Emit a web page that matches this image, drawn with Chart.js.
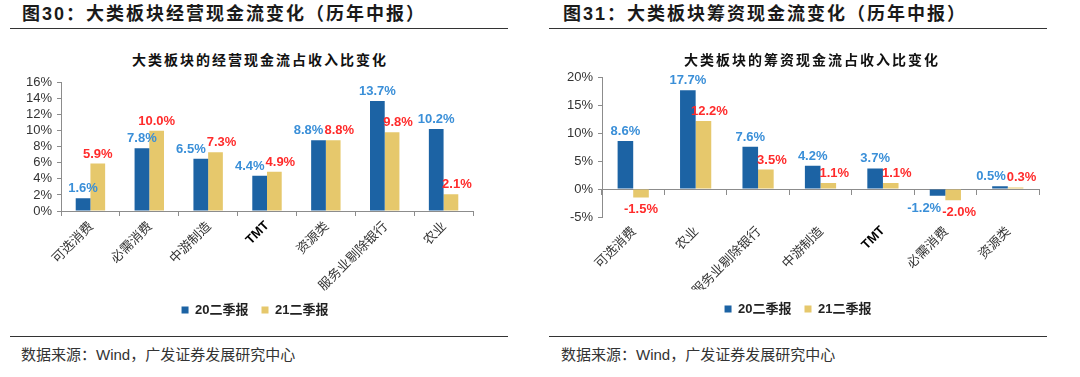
<!DOCTYPE html>
<html><head><meta charset="utf-8">
<script src="https://cdn.jsdelivr.net/npm/chart.js@4.4.0/dist/chart.umd.min.js"></script>
<style>
body{margin:0;width:1080px;height:377px;background:#fff;position:relative;overflow:hidden;font-family:"Liberation Sans","Noto Sans CJK SC",sans-serif;}
.t{position:absolute;top:2px;font-size:18px;font-weight:bold;letter-spacing:2px;color:#1a1a1a;white-space:nowrap;line-height:24px;z-index:2}
.hr{position:absolute;height:1px;background:#333;z-index:2}
.sub{position:absolute;top:50px;font-size:14px;font-weight:bold;letter-spacing:2px;color:#111;white-space:nowrap;line-height:18px;text-align:center;font-family:"Noto Sans CJK SC",sans-serif;z-index:2}
.src{position:absolute;top:345px;font-size:15px;color:#333;white-space:nowrap;line-height:20px;z-index:2}
.box{position:absolute}
</style></head>
<body>
<div class="t" style="left:22px">图30：大类板块经营现金流变化（历年中报）</div>
<div class="hr" style="left:10px;width:498px;top:28px"></div>
<div class="t" style="left:563px">图31：大类板块筹资现金流变化（历年中报）</div>
<div class="hr" style="left:549px;width:498px;top:28px"></div>

<div class="sub" style="left:110px;width:300px">大类板块的经营现金流占收入比变化</div>
<div class="sub" style="left:662px;width:300px">大类板块的筹资现金流占收入比变化</div>

<div class="box" style="left:0;top:71px;width:540px;height:258px"><canvas id="c1"></canvas></div>
<div class="box" style="left:540px;top:66px;width:540px;height:262px"><canvas id="c2"></canvas></div>

<div class="hr" style="left:10px;width:498px;top:336px"></div>
<div class="hr" style="left:549px;width:498px;top:336px"></div>
<div class="src" style="left:21px">数据来源：Wind，广发证券发展研究中心</div>
<div class="src" style="left:561px">数据来源：Wind，广发证券发展研究中心</div>

<script>
// ---- data ----
const seriesNames = ['20二季报', '21二季报'];

const opCategories = ['可选消费', '必需消费', '中游制造', 'TMT', '资源类', '服务业剔除银行', '农业'];
const opQ2_2020 = [1.6, 7.8, 6.5, 4.4, 8.8, 13.7, 10.2];
const opQ2_2021 = [5.9, 10.0, 7.3, 4.9, 8.8, 9.8, 2.1];
const opTicks = { min: 0, max: 16, step: 2 };

const finCategories = ['可选消费', '农业', '服务业剔除银行', '中游制造', 'TMT', '必需消费', '资源类'];
const finQ2_2020 = [8.6, 17.7, 7.6, 4.2, 3.7, -1.2, 0.5];
const finQ2_2021 = [-1.5, 12.2, 3.5, 1.1, 1.1, -2.0, 0.3];
const finTicks = { min: -5, max: 20, step: 5 };

// ---- styles ----
const BAR_COLORS = ['#1C63A4', '#E6C86C'];
const LABEL_COLORS = ['#3A8FD8', '#FF2B2B'];
const AXIS_COLOR = '#8C8C8C';
const LABEL_FONT = 'bold 13px "Liberation Sans", Arial, sans-serif';

function rectsHit(a, b) {
  return a.l < b.r && b.l < a.r && a.t < b.b && b.t < a.b;
}

// value labels above (or below) bars; the second label steps aside when it would hit the first bar/label
const barLabels = {
  id: 'barLabels',
  afterDatasetsDraw(chart) {
    const ctx = chart.ctx;
    ctx.save();
    ctx.font = LABEL_FONT;
    ctx.textAlign = 'center';
    ctx.textBaseline = 'alphabetic';
    const H = 10, GAP = 6, STEP = 6;
    const n = chart.data.labels.length;
    for (let i = 0; i < n; i++) {
      const items = chart.data.datasets.map((ds, di) => {
        const bar = chart.getDatasetMeta(di).data[i];
        const v = ds.data[i];
        const txt = v.toFixed(1) + '%';
        const w = ctx.measureText(txt).width;
        const base = v >= 0 ? bar.y - GAP : bar.y + GAP + H;
        return { di, txt, w, x: bar.x, base, bar };
      });
      const a = items[0], b = items[1];
      const rect = (it) => ({ l: it.x - it.w / 2, r: it.x + it.w / 2, t: it.base - H, b: it.base });
      const barA = { l: a.bar.x - a.bar.width / 2, r: a.bar.x + a.bar.width / 2,
                     t: Math.min(a.bar.y, a.bar.base), b: Math.max(a.bar.y, a.bar.base) };
      if (rectsHit(rect(b), barA) || rectsHit(rect(b), rect(a))) {
        b.x += STEP;
        const ov = rect(a).r - rect(b).l;
        if (rectsHit(rect(b), rect(a)) && ov > 0) a.x -= ov + 1;
      }
      items.forEach(it => {
        ctx.fillStyle = LABEL_COLORS[it.di];
        ctx.fillText(it.txt, it.x, it.base);
      });
    }
    ctx.restore();
  }
};

// move the legend sideways (it is otherwise centred on the whole layout box)
const legendShift = {
  id: 'legendShift',
  afterLayout(chart, args, opts) {
    const dx = opts.dx || 0;
    if (chart.legend) { chart.legend.left += dx; chart.legend.right += dx; }
  }
};

const tickFont = (c) => (c.tick && c.tick.label === 'TMT')
  ? { family: '"Liberation Sans", Arial, sans-serif', size: 13, weight: 'bold' }
  : { family: '"Noto Sans CJK SC", sans-serif', size: 13 };
const tickColor = (c) => (c.tick && c.tick.label === 'TMT') ? '#000' : '#333';

function datasets(a, b) {
  return [
    { label: seriesNames[0], data: a, backgroundColor: BAR_COLORS[0], categoryPercentage: 0.5, barPercentage: 1.0 },
    { label: seriesNames[1], data: b, backgroundColor: BAR_COLORS[1], categoryPercentage: 0.5, barPercentage: 1.0 }
  ];
}

const legendOpts = {
  position: 'bottom',
  labels: {
    boxWidth: 7, boxHeight: 7, padding: 13, color: '#222',
    font: { family: '"Liberation Sans", "Noto Sans CJK SC", sans-serif', size: 13, weight: 'bold' }
  }
};

function yAxis(t, width) {
  return {
    min: t.min, max: t.max,
    afterFit(s) { s.width = width; },
    ticks: { stepSize: t.step, padding: 5, color: '#333', autoSkip: false, maxTicksLimit: 50,
      font: { family: '"Liberation Sans", Arial, sans-serif', size: 13, lineHeight: 1 },
      callback: (v) => v + '%' },
    grid: { drawOnChartArea: false, drawTicks: true, tickLength: 4, color: AXIS_COLOR },
    border: { display: true, color: AXIS_COLOR }
  };
}

// Chart 1
new Chart(document.getElementById('c1'), {
  type: 'bar',
  data: { labels: opCategories, datasets: datasets(opQ2_2020, opQ2_2021) },
  plugins: [barLabels, legendShift],
  options: {
    responsive: true, maintainAspectRatio: false, animation: false,
    layout: { padding: { left: 16, right: 67, top: 10, bottom: 2.5 } },
    plugins: { legend: legendOpts, legendShift: { dx: 10.5 }, tooltip: { enabled: false } },
    scales: {
      x: {
        offset: true,
        afterFit(s) { s.height = 79.5; },
        grid: { offset: true, drawOnChartArea: false, drawTicks: true, tickLength: 5, color: AXIS_COLOR },
        border: { display: true, color: AXIS_COLOR },
        ticks: { minRotation: 45, maxRotation: 45, autoSkip: false, padding: 2, font: tickFont, color: tickColor }
      },
      y: yAxis(opTicks, 45)
    }
  }
});

// Chart 2
new Chart(document.getElementById('c2'), {
  type: 'bar',
  data: { labels: finCategories, datasets: datasets(finQ2_2020, finQ2_2021) },
  plugins: [barLabels, legendShift],
  options: {
    responsive: true, maintainAspectRatio: false, animation: false,
    layout: { padding: { left: 17, right: 41, top: 10, bottom: 2.5 } },
    plugins: { legend: legendOpts, legendShift: { dx: 0 }, tooltip: { enabled: false } },
    scales: {
      x: {
        position: { y: 0 },
        offset: true,
        grid: { offset: true, drawOnChartArea: false, drawTicks: true, tickLength: 5, color: AXIS_COLOR },
        border: { display: true, color: AXIS_COLOR },
        ticks: { display: false }
      },
      x2: {
        type: 'category', axis: 'x', position: 'bottom', offset: true,
        labels: finCategories,
        afterFit(s) { s.height = 72.5; },
        grid: { display: false, drawTicks: false },
        border: { display: false },
        ticks: { minRotation: 45, maxRotation: 45, autoSkip: false, padding: 6, font: tickFont, color: tickColor }
      },
      y: yAxis(finTicks, 45)
    }
  }
});
</script>
</body></html>
